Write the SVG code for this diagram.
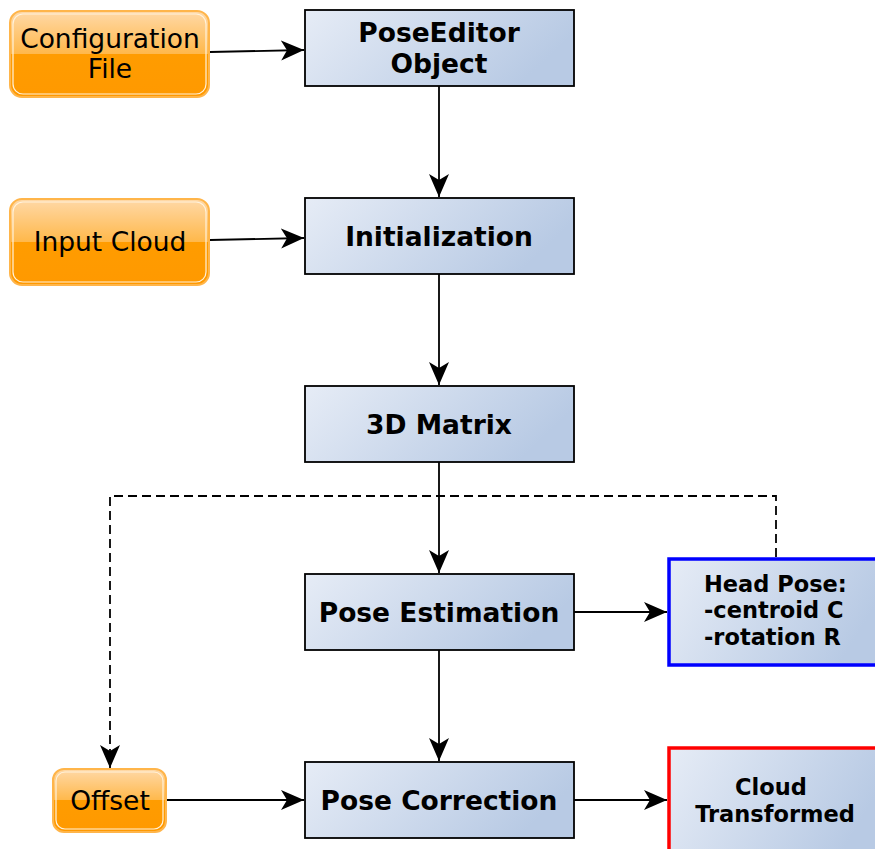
<svg xmlns="http://www.w3.org/2000/svg" width="875" height="849" viewBox="0 0 875 849">
<defs>
<linearGradient id="gb" x1="0" y1="0" x2="1" y2="0.3">
<stop offset="0" stop-color="#e6ecf6"/>
<stop offset="1" stop-color="#b8cae4"/>
</linearGradient>
<linearGradient id="go" x1="0" y1="0" x2="0" y2="1">
<stop offset="0" stop-color="#ffd9a8"/>
<stop offset="0.5" stop-color="#ffb84a"/>
<stop offset="0.5" stop-color="#ff9c00"/>
<stop offset="1" stop-color="#ff9900"/>
</linearGradient>
<marker id="ah" markerWidth="26" markerHeight="22" refX="23" refY="11" orient="auto" markerUnits="userSpaceOnUse">
<path d="M0,1 L23,11 L0,21 L6,11 Z" fill="#000"/>
</marker>
<style>
.box{fill:url(#gb);stroke:#000;stroke-width:1.8}
.org{fill:url(#go);stroke:#ffb54a;stroke-width:2}
.orgi{fill:none;stroke:#fff2dc;stroke-width:1.2}
.tb{font-family:"DejaVu Sans",sans-serif;font-weight:bold;font-size:26.5px;text-anchor:middle;fill:#000}
.ts{font-family:"DejaVu Sans",sans-serif;font-weight:bold;font-size:22.5px;text-anchor:middle;fill:#000}
.tl{font-family:"DejaVu Sans",sans-serif;font-weight:bold;font-size:22.5px;text-anchor:start;fill:#000}
.to{font-family:"DejaVu Sans",sans-serif;font-size:26.5px;text-anchor:middle;fill:#000}
.c{stroke:#000;stroke-width:1.8;fill:none;marker-end:url(#ah)}
.d{stroke:#000;stroke-width:1.8;fill:none;stroke-dasharray:9,5;marker-end:url(#ah)}
</style>
</defs>
<g id="connectors">
<line class="c" x1="210" y1="52" x2="304" y2="50"/>
<line class="c" x1="439" y1="86" x2="439" y2="197"/>
<line class="c" x1="210" y1="240" x2="304" y2="238"/>
<line class="c" x1="439" y1="274" x2="439" y2="385"/>
<line class="c" x1="439" y1="462" x2="439" y2="573"/>
<line class="c" x1="439" y1="650" x2="439" y2="761"/>
<line class="c" x1="574" y1="612" x2="667" y2="612"/>
<line class="c" x1="574" y1="800" x2="667" y2="800"/>
<line class="c" x1="166" y1="800" x2="304" y2="800"/>
<path class="d" d="M776,557 L776,496 L110,496 L110,768"/>
</g>
<g id="config">
<rect class="org" x="10" y="11" width="199" height="86" rx="12"/>
<rect class="orgi" x="13" y="14" width="193" height="80" rx="10"/>
<text class="to" x="110" y="48">Configuration</text>
<text class="to" x="110" y="78">File</text>
</g>
<g id="input">
<rect class="org" x="10" y="199" width="199" height="86" rx="12"/>
<rect class="orgi" x="13" y="202" width="193" height="80" rx="10"/>
<text class="to" x="110" y="251">Input Cloud</text>
</g>
<g id="offset">
<rect class="org" x="53" y="769" width="113" height="63" rx="11"/>
<rect class="orgi" x="56" y="772" width="107" height="57" rx="9"/>
<text class="to" x="110" y="810">Offset</text>
</g>
<g id="poseeditor">
<rect class="box" x="305" y="10" width="269" height="76"/>
<text class="tb" x="439" y="42">PoseEditor</text>
<text class="tb" x="439" y="73">Object</text>
</g>
<g id="init">
<rect class="box" x="305" y="198" width="269" height="76"/>
<text class="tb" x="439" y="246">Initialization</text>
</g>
<g id="matrix">
<rect class="box" x="305" y="386" width="269" height="76"/>
<text class="tb" x="439" y="434">3D Matrix</text>
</g>
<g id="estimation">
<rect class="box" x="305" y="574" width="269" height="76"/>
<text class="tb" x="439" y="622">Pose Estimation</text>
</g>
<g id="correction">
<rect class="box" x="305" y="762" width="269" height="76"/>
<text class="tb" x="439" y="810">Pose Correction</text>
</g>
<g id="headpose">
<rect class="box" x="669" y="559" width="215" height="106" style="stroke:#0000ff;stroke-width:3.5"/>
<text class="tl" x="704" y="592">Head Pose:</text>
<text class="tl" x="704" y="618">-centroid C</text>
<text class="tl" x="704" y="645">-rotation R</text>
</g>
<g id="transformed">
<rect class="box" x="669" y="748" width="215" height="110" style="stroke:#ff0000;stroke-width:3.5"/>
<text class="ts" x="771" y="795">Cloud</text>
<text class="ts" x="775" y="822">Transformed</text>
</g>
</svg>
